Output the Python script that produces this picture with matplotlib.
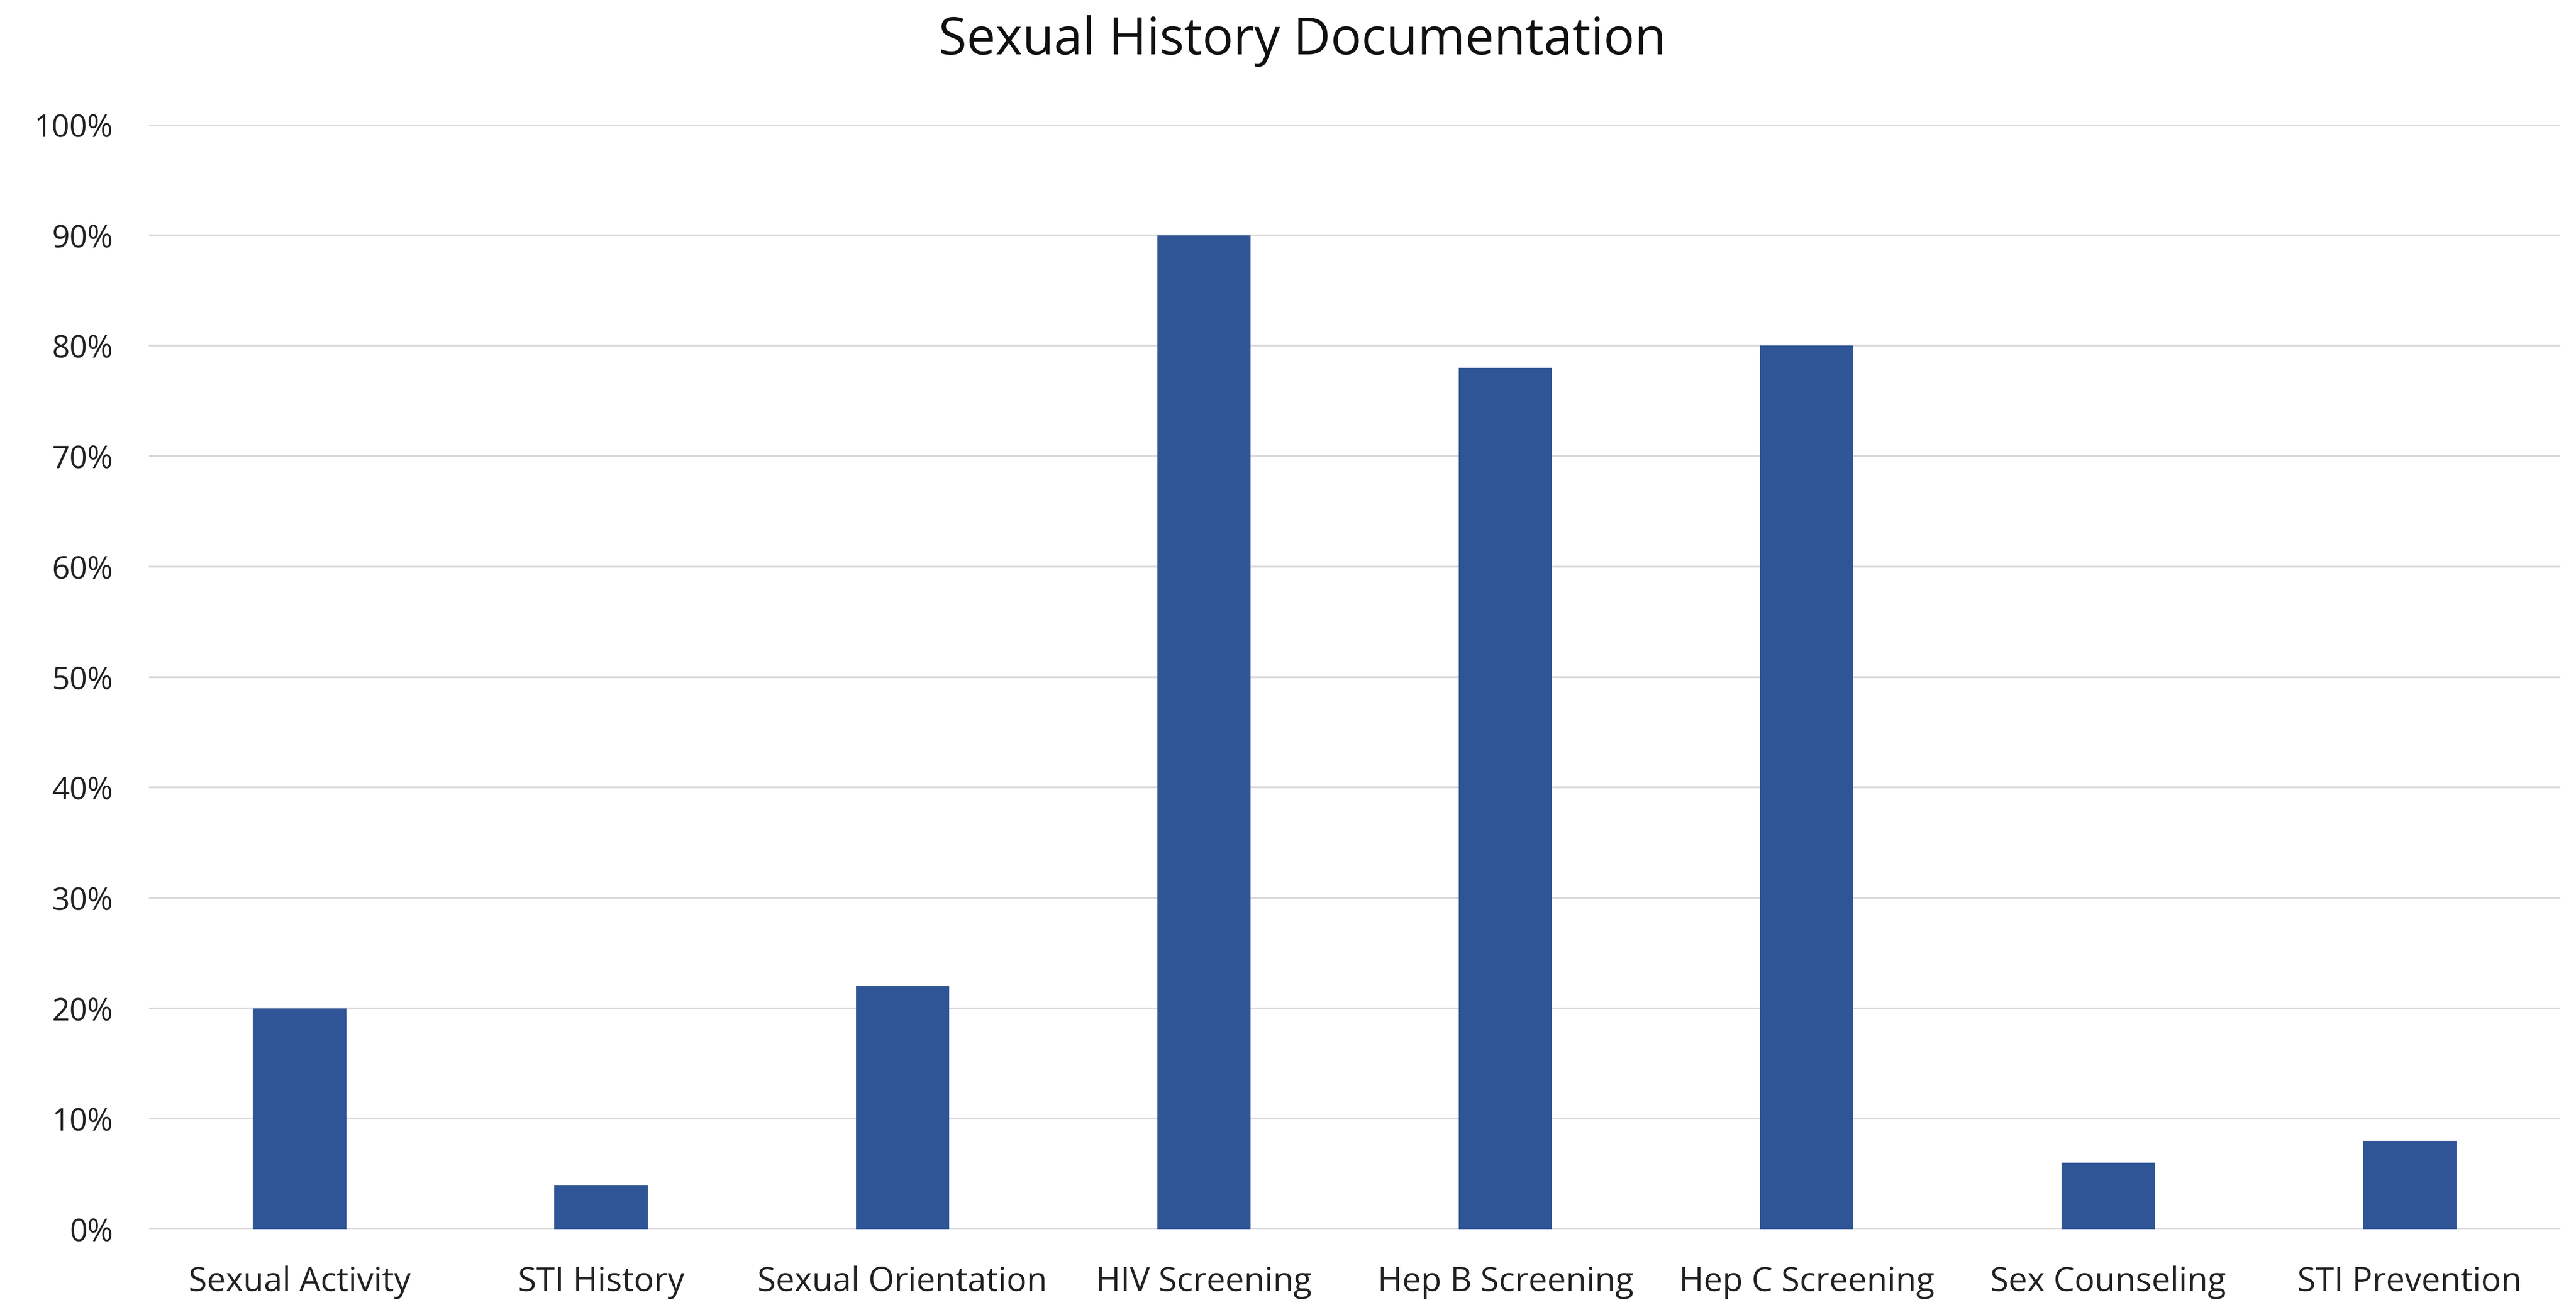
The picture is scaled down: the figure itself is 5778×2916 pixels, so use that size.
import matplotlib
matplotlib.use("Agg")
from matplotlib import pyplot as plt
from matplotlib.ticker import PercentFormatter
import numpy as np

# --------------- Data ---------------
categories = ["Sexual Activity", "STI History", "Sexual Orientation", "HIV Screening",
              "Hep B Screening", "Hep C Screening", "Sex Counseling", "STI Prevention"]
values = [20, 4, 22, 90, 78, 80, 6, 8]
yticks = list(range(0, 101, 10))

plt.rcParams['font.family'] = ['Open Sans', 'DejaVu Sans']

W, H, DPI = 5778, 2916, 100
fig = plt.figure(figsize=(W / DPI, H / DPI), dpi=DPI)
ax = fig.add_axes([334 / W, 1 - 2757 / H, (5743 - 334) / W, (2757 - 280) / H])

x = np.arange(len(categories))
ax.bar(x, values, width=0.31, color="#2F5597", zorder=3)

ax.set_xlim(-0.5, len(categories) - 0.5)
ax.set_ylim(0, 100)
ax.set_yticks(yticks)
ax.yaxis.set_major_formatter(PercentFormatter(decimals=0))
ax.set_xticks(x)
ax.set_xticklabels(categories)
ax.tick_params(axis='both', length=0, colors="#222222")
ax.tick_params(axis='x', pad=59, labelsize=54)
ax.tick_params(axis='y', pad=58, labelsize=50)
ax.grid(axis='y', color="#d9d9d9", linewidth=3, zorder=0)
for s in ax.spines.values():
    s.set_visible(False)

fig.text(2921 / W, 1 - 92 / H, "Sexual History Documentation", ha='center', va='center',
         fontsize=83, color="#111111")

fig.savefig("out.png", dpi=DPI)
